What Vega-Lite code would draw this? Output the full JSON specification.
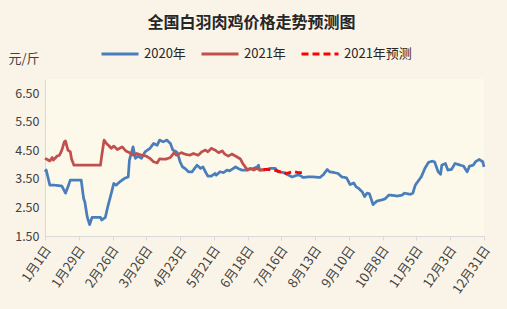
{
  "$schema": "https://vega.github.io/schema/vega-lite/v6.json",
  "width": 439,
  "height": 157,
  "autosize": {"type": "none"},
  "padding": {"left": 45, "top": 79, "right": 23, "bottom": 73},
  "background": "#FAF4E8",
  "title": {"text": "全国白羽肉鸡价格走势预测图", "font": "Noto Sans CJK SC", "fontSize": 16, "fontWeight": "bold", "color": "#262626", "anchor": "middle", "frame": "group", "dx": -13, "offset": 3},
  "config": {
    "view": {"stroke": null, "fill": "#FCF9EB"},
    "font": "Noto Sans CJK SC"
  },
  "data": {"values": [
    {"series": "2020年", "day": 0, "price": 3.75},
    {"series": "2020年", "day": 1, "price": 3.81},
    {"series": "2020年", "day": 3, "price": 3.46},
    {"series": "2020年", "day": 4, "price": 3.28},
    {"series": "2020年", "day": 8, "price": 3.28},
    {"series": "2020年", "day": 14, "price": 3.25},
    {"series": "2020年", "day": 17, "price": 3.0},
    {"series": "2020年", "day": 19, "price": 3.22},
    {"series": "2020年", "day": 21, "price": 3.46},
    {"series": "2020年", "day": 25, "price": 3.46},
    {"series": "2020年", "day": 30, "price": 3.46},
    {"series": "2020年", "day": 32, "price": 2.82},
    {"series": "2020年", "day": 33, "price": 2.7},
    {"series": "2020年", "day": 35, "price": 2.17},
    {"series": "2020年", "day": 37, "price": 1.9},
    {"series": "2020年", "day": 39, "price": 2.15},
    {"series": "2020年", "day": 42, "price": 2.15},
    {"series": "2020年", "day": 46, "price": 2.15},
    {"series": "2020年", "day": 47, "price": 2.06},
    {"series": "2020年", "day": 50, "price": 2.15},
    {"series": "2020年", "day": 52, "price": 2.52},
    {"series": "2020年", "day": 55, "price": 3.0},
    {"series": "2020年", "day": 57, "price": 3.34},
    {"series": "2020年", "day": 59, "price": 3.28},
    {"series": "2020年", "day": 62, "price": 3.4},
    {"series": "2020年", "day": 66, "price": 3.52},
    {"series": "2020年", "day": 69, "price": 3.57},
    {"series": "2020年", "day": 70, "price": 4.16},
    {"series": "2020年", "day": 73, "price": 4.62},
    {"series": "2020年", "day": 75, "price": 4.22},
    {"series": "2020年", "day": 77, "price": 4.3},
    {"series": "2020年", "day": 80, "price": 4.22},
    {"series": "2020年", "day": 83, "price": 4.45},
    {"series": "2020年", "day": 87, "price": 4.57},
    {"series": "2020年", "day": 90, "price": 4.74},
    {"series": "2020年", "day": 93, "price": 4.68},
    {"series": "2020年", "day": 95, "price": 4.86},
    {"series": "2020年", "day": 98, "price": 4.8},
    {"series": "2020年", "day": 101, "price": 4.86},
    {"series": "2020年", "day": 104, "price": 4.74},
    {"series": "2020年", "day": 106, "price": 4.51},
    {"series": "2020年", "day": 109, "price": 4.45},
    {"series": "2020年", "day": 110, "price": 4.39},
    {"series": "2020年", "day": 112, "price": 4.1},
    {"series": "2020年", "day": 114, "price": 3.92},
    {"series": "2020年", "day": 116, "price": 3.87},
    {"series": "2020年", "day": 119, "price": 3.75},
    {"series": "2020年", "day": 122, "price": 3.75},
    {"series": "2020年", "day": 126, "price": 3.98},
    {"series": "2020年", "day": 129, "price": 3.87},
    {"series": "2020年", "day": 131, "price": 3.92},
    {"series": "2020年", "day": 133, "price": 3.75},
    {"series": "2020年", "day": 135, "price": 3.6},
    {"series": "2020年", "day": 138, "price": 3.6},
    {"series": "2020年", "day": 141, "price": 3.69},
    {"series": "2020年", "day": 142, "price": 3.63},
    {"series": "2020年", "day": 145, "price": 3.75},
    {"series": "2020年", "day": 148, "price": 3.72},
    {"series": "2020年", "day": 151, "price": 3.81},
    {"series": "2020年", "day": 153, "price": 3.78},
    {"series": "2020年", "day": 158, "price": 3.92},
    {"series": "2020年", "day": 160, "price": 3.87},
    {"series": "2020年", "day": 163, "price": 3.81},
    {"series": "2020年", "day": 167, "price": 3.81},
    {"series": "2020年", "day": 173, "price": 3.87},
    {"series": "2020年", "day": 176, "price": 3.92},
    {"series": "2020年", "day": 177, "price": 3.98},
    {"series": "2020年", "day": 178, "price": 3.81},
    {"series": "2020年", "day": 182, "price": 3.81},
    {"series": "2020年", "day": 187, "price": 3.87},
    {"series": "2020年", "day": 191, "price": 3.87},
    {"series": "2020年", "day": 193, "price": 3.75},
    {"series": "2020年", "day": 198, "price": 3.72},
    {"series": "2020年", "day": 202, "price": 3.63},
    {"series": "2020年", "day": 205, "price": 3.57},
    {"series": "2020年", "day": 209, "price": 3.63},
    {"series": "2020年", "day": 211, "price": 3.63},
    {"series": "2020年", "day": 214, "price": 3.55},
    {"series": "2020年", "day": 218, "price": 3.57},
    {"series": "2020年", "day": 222, "price": 3.57},
    {"series": "2020年", "day": 228, "price": 3.55},
    {"series": "2020年", "day": 231, "price": 3.66},
    {"series": "2020年", "day": 234, "price": 3.83},
    {"series": "2020年", "day": 236, "price": 3.75},
    {"series": "2020年", "day": 240, "price": 3.72},
    {"series": "2020年", "day": 243, "price": 3.69},
    {"series": "2020年", "day": 246, "price": 3.57},
    {"series": "2020年", "day": 250, "price": 3.54},
    {"series": "2020年", "day": 253, "price": 3.3},
    {"series": "2020年", "day": 256, "price": 3.36},
    {"series": "2020年", "day": 258, "price": 3.22},
    {"series": "2020年", "day": 260, "price": 3.17},
    {"series": "2020年", "day": 263, "price": 3.05},
    {"series": "2020年", "day": 265, "price": 2.88},
    {"series": "2020年", "day": 267, "price": 3.0},
    {"series": "2020年", "day": 269, "price": 2.98},
    {"series": "2020年", "day": 272, "price": 2.6},
    {"series": "2020年", "day": 275, "price": 2.72},
    {"series": "2020年", "day": 279, "price": 2.76},
    {"series": "2020年", "day": 282, "price": 2.8},
    {"series": "2020年", "day": 285, "price": 2.93},
    {"series": "2020年", "day": 287, "price": 2.93},
    {"series": "2020年", "day": 292, "price": 2.9},
    {"series": "2020年", "day": 296, "price": 2.93},
    {"series": "2020年", "day": 298, "price": 3.0},
    {"series": "2020年", "day": 303, "price": 2.96},
    {"series": "2020年", "day": 305, "price": 3.0},
    {"series": "2020年", "day": 307, "price": 3.28},
    {"series": "2020年", "day": 310, "price": 3.46},
    {"series": "2020年", "day": 312, "price": 3.57},
    {"series": "2020年", "day": 315, "price": 3.87},
    {"series": "2020年", "day": 318, "price": 4.08},
    {"series": "2020年", "day": 321, "price": 4.12},
    {"series": "2020年", "day": 323, "price": 4.1},
    {"series": "2020年", "day": 326, "price": 3.75},
    {"series": "2020年", "day": 328, "price": 3.66},
    {"series": "2020年", "day": 329, "price": 3.98},
    {"series": "2020年", "day": 332, "price": 4.04},
    {"series": "2020年", "day": 334, "price": 3.81},
    {"series": "2020年", "day": 337, "price": 3.83},
    {"series": "2020年", "day": 340, "price": 4.04},
    {"series": "2020年", "day": 343, "price": 4.0},
    {"series": "2020年", "day": 347, "price": 3.95},
    {"series": "2020年", "day": 350, "price": 3.75},
    {"series": "2020年", "day": 352, "price": 3.95},
    {"series": "2020年", "day": 355, "price": 3.98},
    {"series": "2020年", "day": 357, "price": 4.1},
    {"series": "2020年", "day": 360, "price": 4.18},
    {"series": "2020年", "day": 363, "price": 4.1},
    {"series": "2020年", "day": 364, "price": 3.92},
    {"series": "2021年", "day": 0, "price": 4.22},
    {"series": "2021年", "day": 4, "price": 4.13},
    {"series": "2021年", "day": 6, "price": 4.25},
    {"series": "2021年", "day": 7, "price": 4.16},
    {"series": "2021年", "day": 10, "price": 4.3},
    {"series": "2021年", "day": 12, "price": 4.33},
    {"series": "2021年", "day": 14, "price": 4.51},
    {"series": "2021年", "day": 16, "price": 4.8},
    {"series": "2021年", "day": 17, "price": 4.83},
    {"series": "2021年", "day": 19, "price": 4.51},
    {"series": "2021年", "day": 21, "price": 4.45},
    {"series": "2021年", "day": 22, "price": 4.2},
    {"series": "2021年", "day": 24, "price": 3.98},
    {"series": "2021年", "day": 46, "price": 3.98},
    {"series": "2021年", "day": 47, "price": 4.3},
    {"series": "2021年", "day": 49, "price": 4.86},
    {"series": "2021年", "day": 51, "price": 4.74},
    {"series": "2021年", "day": 53, "price": 4.66},
    {"series": "2021年", "day": 55, "price": 4.57},
    {"series": "2021年", "day": 57, "price": 4.65},
    {"series": "2021年", "day": 60, "price": 4.53},
    {"series": "2021年", "day": 64, "price": 4.62},
    {"series": "2021年", "day": 67, "price": 4.48},
    {"series": "2021年", "day": 70, "price": 4.42},
    {"series": "2021年", "day": 73, "price": 4.33},
    {"series": "2021年", "day": 76, "price": 4.39},
    {"series": "2021年", "day": 80, "price": 4.33},
    {"series": "2021年", "day": 84, "price": 4.3},
    {"series": "2021年", "day": 87, "price": 4.22},
    {"series": "2021年", "day": 90, "price": 4.1},
    {"series": "2021年", "day": 93, "price": 4.06},
    {"series": "2021年", "day": 95, "price": 4.2},
    {"series": "2021年", "day": 100, "price": 4.19},
    {"series": "2021年", "day": 104, "price": 4.25},
    {"series": "2021年", "day": 107, "price": 4.42},
    {"series": "2021年", "day": 109, "price": 4.33},
    {"series": "2021年", "day": 113, "price": 4.42},
    {"series": "2021年", "day": 116, "price": 4.37},
    {"series": "2021年", "day": 120, "price": 4.33},
    {"series": "2021年", "day": 123, "price": 4.39},
    {"series": "2021年", "day": 127, "price": 4.33},
    {"series": "2021年", "day": 130, "price": 4.45},
    {"series": "2021年", "day": 133, "price": 4.51},
    {"series": "2021年", "day": 135, "price": 4.45},
    {"series": "2021年", "day": 138, "price": 4.57},
    {"series": "2021年", "day": 141, "price": 4.51},
    {"series": "2021年", "day": 144, "price": 4.42},
    {"series": "2021年", "day": 147, "price": 4.48},
    {"series": "2021年", "day": 149, "price": 4.37},
    {"series": "2021年", "day": 152, "price": 4.3},
    {"series": "2021年", "day": 155, "price": 4.37},
    {"series": "2021年", "day": 158, "price": 4.3},
    {"series": "2021年", "day": 162, "price": 4.2},
    {"series": "2021年", "day": 164, "price": 4.04},
    {"series": "2021年", "day": 166, "price": 3.92},
    {"series": "2021年", "day": 168, "price": 3.81},
    {"series": "2021年", "day": 170, "price": 3.87},
    {"series": "2021年", "day": 173, "price": 3.81},
    {"series": "2021年", "day": 176, "price": 3.87},
    {"series": "2021年", "day": 178, "price": 3.81},
    {"series": "2021年", "day": 181, "price": 3.83},
    {"series": "2021年预测", "day": 181, "price": 3.83},
    {"series": "2021年预测", "day": 184, "price": 3.83},
    {"series": "2021年预测", "day": 188, "price": 3.81},
    {"series": "2021年预测", "day": 192, "price": 3.79},
    {"series": "2021年预测", "day": 195, "price": 3.75},
    {"series": "2021年预测", "day": 197, "price": 3.77},
    {"series": "2021年预测", "day": 200, "price": 3.69},
    {"series": "2021年预测", "day": 205, "price": 3.75},
    {"series": "2021年预测", "day": 207, "price": 3.75},
    {"series": "2021年预测", "day": 210, "price": 3.72},
    {"series": "2021年预测", "day": 213, "price": 3.72}
  ]},
  "mark": {"type": "line", "strokeWidth": 2.75, "strokeJoin": "round"},
  "encoding": {
    "x": {
      "field": "day", "type": "quantitative",
      "scale": {"domain": [0, 364], "nice": false, "zero": false},
      "axis": {
        "title": null,
        "values": [0, 28, 56, 84, 112, 140, 168, 196, 224, 252, 280, 308, 336, 364],
        "labelExpr": "['1月1日','1月29日','2月26日','3月26日','4月23日','5月21日','6月18日','7月16日','8月13日','9月10日','10月8日','11月5日','12月3日','12月31日'][round(datum.value/28)]",
        "labelAngle": -55, "labelAlign": "right", "labelBaseline": "middle",
        "labelFontSize": 13, "labelColor": "#404040", "labelPadding": 7, "labelOffset": 3,
        "grid": false, "domainColor": "#D9D9D9", "tickColor": "#D9D9D9", "tickSize": 4,
        "labelOverlap": false, "labelBound": false, "labelFlush": false
      }
    },
    "y": {
      "field": "price", "type": "quantitative",
      "scale": {"domain": [1.5, 7.0], "nice": false, "zero": false},
      "axis": {
        "title": "元/斤", "titleAngle": 0, "titleX": -37, "titleY": -21, "titleAlign": "left", "titleBaseline": "middle",
        "titleFontSize": 13, "titleFontWeight": "normal", "titleColor": "#404040",
        "values": [1.5, 2.5, 3.5, 4.5, 5.5, 6.5], "format": ".2f",
        "labelFontSize": 12.5, "labelColor": "#404040", "labelPadding": 6,
        "ticks": false, "grid": false, "domainColor": "#D9D9D9"
      }
    },
    "color": {
      "field": "series", "type": "nominal",
      "scale": {"domain": ["2020年", "2021年", "2021年预测"], "range": ["#4A7EBB", "#C0504D", "#FF0000"]},
      "legend": {
        "title": null, "orient": "none", "direction": "horizontal", "legendX": 55, "legendY": -45,
        "symbolType": "stroke", "symbolSize": 1369, "symbolStrokeWidth": 3,
        "labelFontSize": 13, "labelColor": "#262626", "labelOffset": 4, "columnPadding": 9
      }
    },
    "strokeDash": {
      "field": "series", "type": "nominal",
      "scale": {"domain": ["2020年", "2021年", "2021年预测"], "range": [[1, 0], [1, 0], [7, 4]]},
      "legend": {
        "title": null, "orient": "none", "direction": "horizontal", "legendX": 55, "legendY": -45,
        "symbolType": "stroke", "symbolSize": 1369, "symbolStrokeWidth": 3,
        "labelFontSize": 13, "labelColor": "#262626", "labelOffset": 4, "columnPadding": 9
      }
    }
  }
}
